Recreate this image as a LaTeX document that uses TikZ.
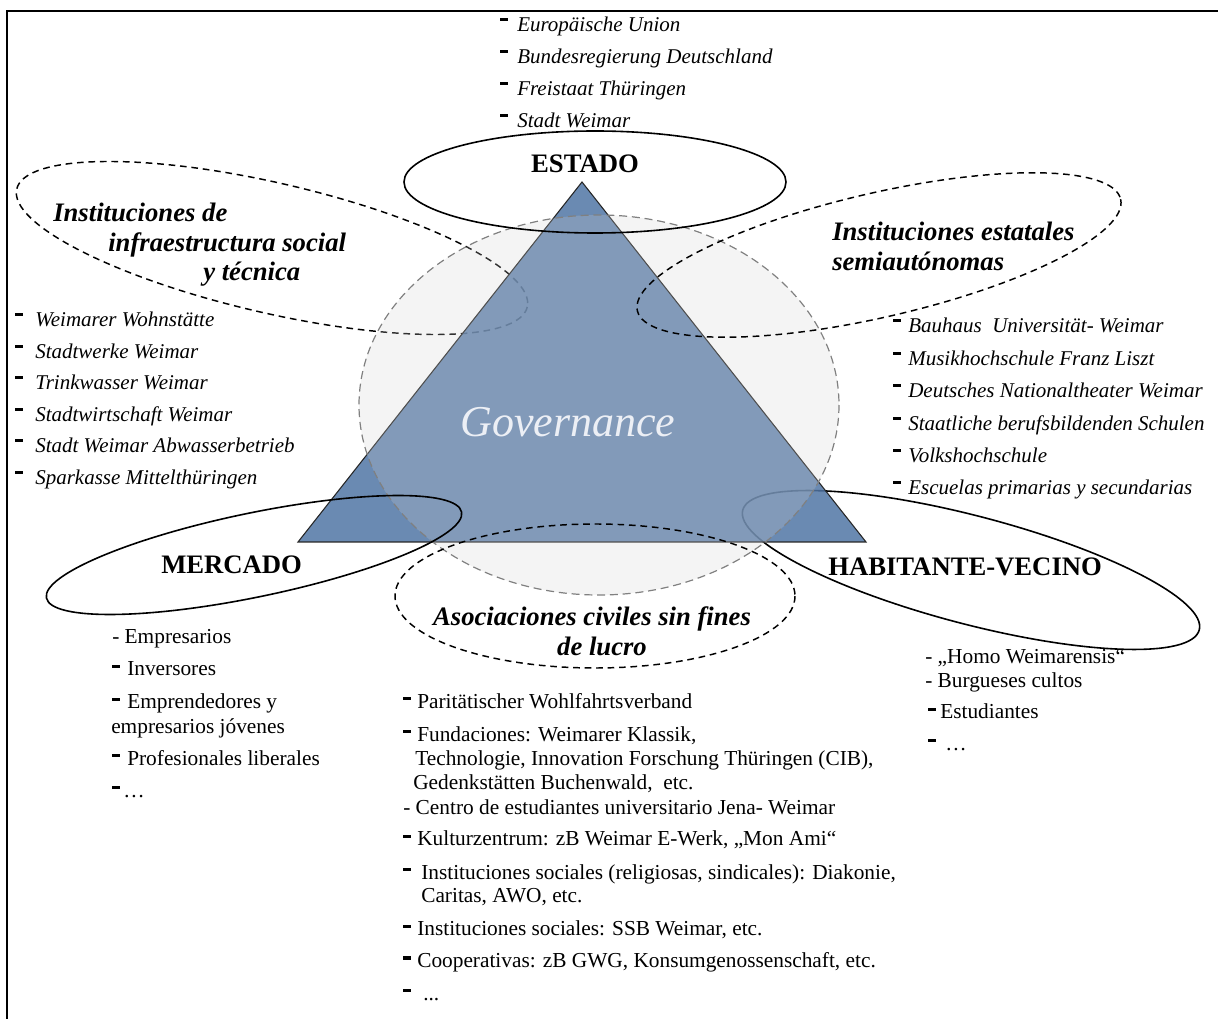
\documentclass[tikz,border=0pt]{standalone}
\usepackage{fontspec}
\setmainfont{Liberation Serif}
\definecolor{tri}{RGB}{80,117,164}
\definecolor{circ}{RGB}{209,209,209}
\definecolor{gov}{RGB}{236,239,245}
\newcommand{\bd}[2]{\makebox[#1][l]{\rule[#2]{0.36em}{0.16em}}}
\begin{document}
\begin{tikzpicture}[x=0.75pt,y=-0.75pt,
  itl/.style={font=\fontsize{15.75}{18}\selectfont\itshape, anchor=base west, inner sep=0pt},
  upr/.style={font=\fontsize{16}{19}\selectfont, anchor=base west, inner sep=0pt},
  bhead/.style={font=\fontsize{20}{24}\selectfont\bfseries, anchor=base west, inner sep=0pt},
  bihead/.style={font=\fontsize{20}{24}\selectfont\bfseries\itshape, anchor=base west, inner sep=0pt},
  dline/.style={draw=black, line width=1.1pt, dash pattern=on 5pt off 3.6pt},
  sline/.style={draw=black, line width=1.2pt},
  circstyle/.style={draw=black!50, line width=0.9pt, dash pattern=on 6pt off 3.6pt, fill=circ, fill opacity=0.24}]
\useasboundingbox (0,0) rectangle (1218,1019);
% frame
\draw[line width=1.9pt] (7,1019) -- (7,11) -- (1218,11);
% ellipses under triangle
\draw[dline] (272,248) ellipse [x radius=262, y radius=65, rotate=-13];
\draw[sline] (971,570) ellipse [x radius=236, y radius=54, rotate=-14.7];
% triangle
\fill[tri, fill opacity=0.85] (582,182) -- (866,542) -- (298,542) -- cycle;
\draw[line width=0.8pt, black!85] (582,182) -- (866,542) -- (298,542) -- cycle;
% circle
\draw[circstyle] (599,405) ellipse [x radius=240, y radius=190];
% ellipses over triangle
\draw[sline] (595,182) ellipse [x radius=191, y radius=51];
\draw[sline] (254,555) ellipse [x radius=212, y radius=42, rotate=11.7];
\draw[dline] (879,255) ellipse [x radius=248, y radius=62, rotate=13];
\draw[dline] (595,596) ellipse [x radius=200, y radius=72];

% Governance
\node[font=\fontsize{33}{38}\selectfont\itshape, text=gov, anchor=base, inner sep=0pt] (gov) at (568,437) {Governance};

% headings
\node[bhead, anchor=base] (estado) at (585,173) {ESTADO};
\node[bhead] (mercado) at (161,574) {MERCADO};
\node[bhead] (habit) at (828,576) {HABITANTE-VECINO};
\node[bihead] (iis1) at (53,222) {Instituciones de};
\node[bihead] (iis2) at (108,252) {infraestructura social};
\node[bihead] (iis3) at (203,281) {y técnica};
\node[bihead] (ies1) at (832,241) {Instituciones estatales};
\node[bihead] (ies2) at (832,271) {semiautónomas};
\node[bihead, anchor=base] (asc1) at (592,626) {Asociaciones civiles sin fines};
\node[bihead, anchor=base] (asc2) at (602,656) {de lucro};

% top list
\node[itl] (t1) at (500,32) {\bd{12.75pt}{0.5em}Europäische Union};
\node[itl] (t2) at (500,64) {\bd{12.75pt}{0.5em}Bundesregierung Deutschland};
\node[itl] (t3) at (500,96) {\bd{12.75pt}{0.5em}Freistaat Thüringen};
\node[itl] (t4) at (500,128) {\bd{12.75pt}{0.5em}Stadt Weimar};

% left list
\node[itl] (l1) at (15,327) {\bd{15pt}{0.5em}Weimarer Wohnstätte};
\node[itl] (l2) at (15,358.5) {\bd{15pt}{0.5em}Stadtwerke Weimar};
\node[itl] (l3) at (15,390) {\bd{15pt}{0.5em}Trinkwasser Weimar};
\node[itl] (l4) at (15,421.5) {\bd{15pt}{0.5em}Stadtwirtschaft Weimar};
\node[itl] (l5) at (15,453) {\bd{15pt}{0.5em}Stadt Weimar Abwasserbetrieb};
\node[itl] (l6) at (15,485) {\bd{15pt}{0.5em}Sparkasse Mittelthüringen};

% right list
\node[itl] (r1) at (893,333) {\bd{11.25pt}{0.5em}Bauhaus\ \ Universität- Weimar};
\node[itl] (r2) at (893,365.5) {\bd{11.25pt}{0.5em}Musikhochschule Franz Liszt};
\node[itl] (r3) at (893,398) {\bd{11.25pt}{0.5em}Deutsches Nationaltheater Weimar};
\node[itl] (r4) at (893,430.5) {\bd{11.25pt}{0.5em}Staatliche berufsbildenden Schulen};
\node[itl] (r5) at (893,463) {\bd{11.25pt}{0.5em}Volkshochschule};
\node[itl] (r6) at (893,495) {\bd{11.25pt}{0.5em}Escuelas primarias y secundarias};

% mercado list
\node[upr] (m1) at (112,644) {- Empresarios};
\node[upr] (m2) at (112,676) {\bd{11.25pt}{0.36em}Inversores};
\node[upr] (m3) at (112,709) {\bd{11.25pt}{0.36em}Emprendedores y};
\node[upr] (m4) at (111,733) {empresarios jóvenes};
\node[upr] (m5) at (112,765) {\bd{11.25pt}{0.36em}Profesionales liberales};
\node[upr] (m6) at (112,797) {\bd{8.25pt}{0.36em}…};

% asociaciones list
\node[upr] (a1) at (403,708) {\bd{10.5pt}{0.36em}Paritätischer Wohlfahrtsverband};
\node[upr] (a2) at (403,741) {\bd{10.5pt}{0.36em}Fundaciones: Weimarer Klassik,};
\node[upr] (a3) at (415,765) {Technologie, Innovation Forschung Thüringen (CIB),};
\node[upr] (a4) at (413,789.3) {Gedenkstätten Buchenwald,\ \ etc.};
\node[upr] (a5) at (403,814) {- Centro de estudiantes universitario Jena- Weimar};
\node[upr] (a6) at (403,845.7) {\bd{10.5pt}{0.36em}Kulturzentrum: zB Weimar E-Werk, „Mon Ami“};
\node[upr] (a7) at (403,879) {\bd{13.5pt}{0.36em}Instituciones sociales (religiosas, sindicales): Diakonie,};
\node[upr] (a8) at (421,902.7) {Caritas, AWO, etc.};
\node[upr] (a9) at (403,935.7) {\bd{10.5pt}{0.36em}Instituciones sociales: SSB Weimar, etc.};
\node[upr] (a10) at (403,967.3) {\bd{10.5pt}{0.36em}Cooperativas: zB GWG, Konsumgenossenschaft, etc.};
\node[upr] (a11) at (403,1000) {\bd{15pt}{0.36em}...};

% habitante list
\node[upr] (h1) at (925,664) {- „Homo Weimarensis“};
\node[upr] (h2) at (925,687) {- Burgueses cultos};
\node[upr] (h3) at (928,719) {\bd{9pt}{0.36em}Estudiantes};
\node[upr] (h4) at (928,750) {\bd{12.75pt}{0.36em}…};
\end{tikzpicture}
\end{document}
